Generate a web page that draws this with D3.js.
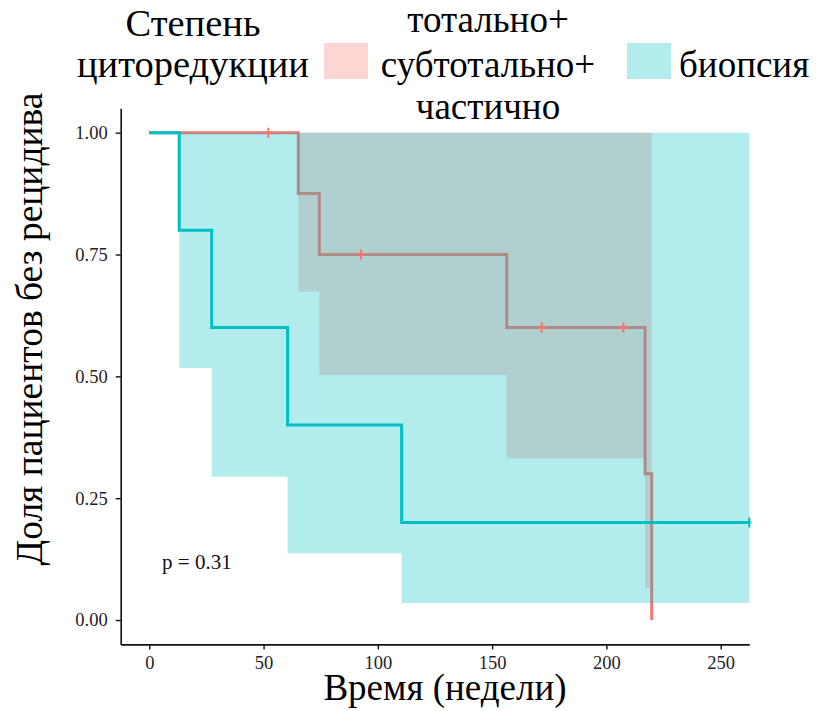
<!DOCTYPE html>
<html>
<head>
<meta charset="utf-8">
<script src="https://cdn.jsdelivr.net/npm/d3@7"></script>
<style>
  html, body { margin: 0; padding: 0; background: #fff; }
  svg { display: block; }
</style>
</head>
<body>
<svg id="chart" width="821" height="711"></svg>
<script>
// Kaplan–Meier estimates by extent of cytoreduction
const groupNames = ["тотально+ субтотально+ частично", "биопсия"];
const groupLabelLines = [["тотально+", "субтотально+", "частично"], ["биопсия"]];
const groupColors = ["#F8766D", "#00BFC4"];

// group 1: total + subtotal + partial resection
const resTimes = [0, 65.2, 74.4, 156.4, 216.9, 219.8];
const resSurv  = [1, 0.875, 0.75, 0.6, 0.3, 0];
const resLower = [1, 0.674, 0.503, 0.332, 0.066, 0.066];
const resUpper = [1, 1, 1, 1, 1, 1];
const resCensor = [52.1, 92.6, 171.7, 207.4];

// group 2: biopsy
const bioTimes = [0, 13.1, 27.3, 60.5, 110.4, 262.5];
const bioSurv  = [1, 0.8, 0.6, 0.4, 0.2, 0.2];
const bioLower = [1, 0.517, 0.294, 0.137, 0.035, 0.035];
const bioUpper = [1, 1, 1, 1, 1, 1];
const bioCensor = [262.5];

const xTicks = [0, 50, 100, 150, 200, 250];
const yTicks = [0, 0.25, 0.5, 0.75, 1];
const pValueText = "p = 0.31";
const xTitle = "Время (недели)";
const yTitle = "Доля пациентов без рецидива";
const legendTitle = ["Степень", "циторедукции"];

const FONT = "Liberation Serif";

const svg = d3.select("#chart");
svg.append("rect").attr("width", 821).attr("height", 711).attr("fill", "#fff");

const plot = { left: 120.7, right: 749.3, top: 108.3, bottom: 644.4 };
const x = d3.scaleLinear().domain([-12.5, 262.5]).range([plot.left, plot.right]);
const y = d3.scaleLinear().domain([-0.05, 1.05]).range([plot.bottom, plot.top]);

svg.append("defs").append("clipPath").attr("id", "plotClip")
  .append("rect")
  .attr("x", plot.left).attr("y", plot.top - 10)
  .attr("width", plot.right - plot.left + 2).attr("height", plot.bottom - plot.top + 10);

const g = svg.append("g").attr("clip-path", "url(#plotClip)");

function makeGroup(times, surv, lower, upper, censor) {
  const pts = times.map((t, i) => ({ t, s: surv[i], lo: lower[i], hi: upper[i] }));
  const stepAt = t => {
    let v = surv[0];
    for (let i = 0; i < times.length; i++) if (times[i] <= t) v = surv[i];
    return v;
  };
  return { pts, censor: censor.map(t => ({ t, s: stepAt(t) })) };
}

const groups = [
  makeGroup(resTimes, resSurv, resLower, resUpper, resCensor),
  makeGroup(bioTimes, bioSurv, bioLower, bioUpper, bioCensor)
];

const area = d3.area()
  .curve(d3.curveStepAfter)
  .x(d => x(d.t))
  .y0(d => y(d.lo))
  .y1(d => y(d.hi));

const line = d3.line()
  .curve(d3.curveStepAfter)
  .x(d => x(d.t))
  .y(d => y(d.s));

// confidence band and curve for each group, biopsy drawn on top
groups.forEach((grp, i) => {
  const band = grp.pts.filter(d => d.hi - d.lo > 1e-9);
  g.append("path")
    .datum(band)
    .attr("d", area)
    .attr("fill", groupColors[i])
    .attr("fill-opacity", 0.3);
  g.append("path")
    .datum(grp.pts)
    .attr("d", line)
    .attr("fill", "none")
    .attr("stroke", groupColors[i])
    .attr("stroke-width", 3);
});

// censoring marks
groups.forEach((grp, i) => {
  const m = g.append("g");
  grp.censor.forEach(c => {
    m.append("line")
      .attr("x1", x(c.t)).attr("x2", x(c.t))
      .attr("y1", y(c.s) - 5).attr("y2", y(c.s) + 5)
      .attr("stroke", groupColors[i]).attr("stroke-width", 2);
    m.append("line")
      .attr("x1", x(c.t) - 5).attr("x2", x(c.t) + 5)
      .attr("y1", y(c.s)).attr("y2", y(c.s))
      .attr("stroke", groupColors[i]).attr("stroke-width", 2);
  });
});

// axes
const xAxis = svg.append("g")
  .attr("transform", `translate(0,${plot.bottom})`)
  .call(d3.axisBottom(x).tickValues(xTicks).tickSize(5).tickPadding(6).tickSizeOuter(0));
const yAxis = svg.append("g")
  .attr("transform", `translate(${plot.left},0)`)
  .call(d3.axisLeft(y).tickValues(yTicks).tickFormat(d3.format(".2f")).tickSize(5).tickPadding(8).tickSizeOuter(0));

[xAxis, yAxis].forEach(a => {
  a.attr("font-family", FONT).attr("font-size", 18.5);
  a.select(".domain").attr("stroke", "#111").attr("stroke-width", 1.6);
  a.selectAll(".tick line").attr("stroke", "#111").attr("stroke-width", 1.4);
  a.selectAll(".tick text").attr("fill", "#222");
});

// p-value
svg.append("text")
  .attr("x", x(5.6)).attr("y", y(0.105))
  .attr("fill", "#111")
  .attr("font-family", FONT)
  .attr("font-size", 21)
  .text(pValueText);

// axis titles
svg.append("text")
  .attr("x", 445).attr("y", 700)
  .attr("text-anchor", "middle")
  .attr("fill", "#000")
  .attr("font-family", FONT)
  .attr("font-size", 37)
  .text(xTitle);

svg.append("text")
  .attr("transform", "translate(42,329) rotate(-90)")
  .attr("text-anchor", "middle")
  .attr("fill", "#000")
  .attr("font-family", FONT)
  .attr("font-size", 37.5)
  .text(yTitle);

// legend
const legend = svg.append("g").attr("font-family", FONT);
legend.selectAll("text.title")
  .data(legendTitle).join("text")
  .attr("class", "title")
  .attr("x", 193).attr("y", (d, i) => 36 + i * 41)
  .attr("text-anchor", "middle")
  .attr("fill", "#000")
  .attr("font-size", 38.5)
  .text(d => d);

const keyX = [324, 627];
const labelX = [488, 679];
const labelAnchor = ["middle", "start"];
groupNames.forEach((name, i) => {
  legend.append("rect")
    .attr("x", keyX[i]).attr("y", 43)
    .attr("width", 44).attr("height", 36)
    .attr("fill", groupColors[i])
    .attr("fill-opacity", 0.3);
  const lines = groupLabelLines[i];
  const base = lines.length === 1 ? [77] : [32, 77, 119];
  lines.forEach((ln, j) => {
    legend.append("text")
      .attr("x", labelX[i]).attr("y", base[j])
      .attr("text-anchor", labelAnchor[i])
      .attr("fill", "#000")
      .attr("font-size", 37)
      .text(ln);
  });
});
</script>
</body>
</html>
